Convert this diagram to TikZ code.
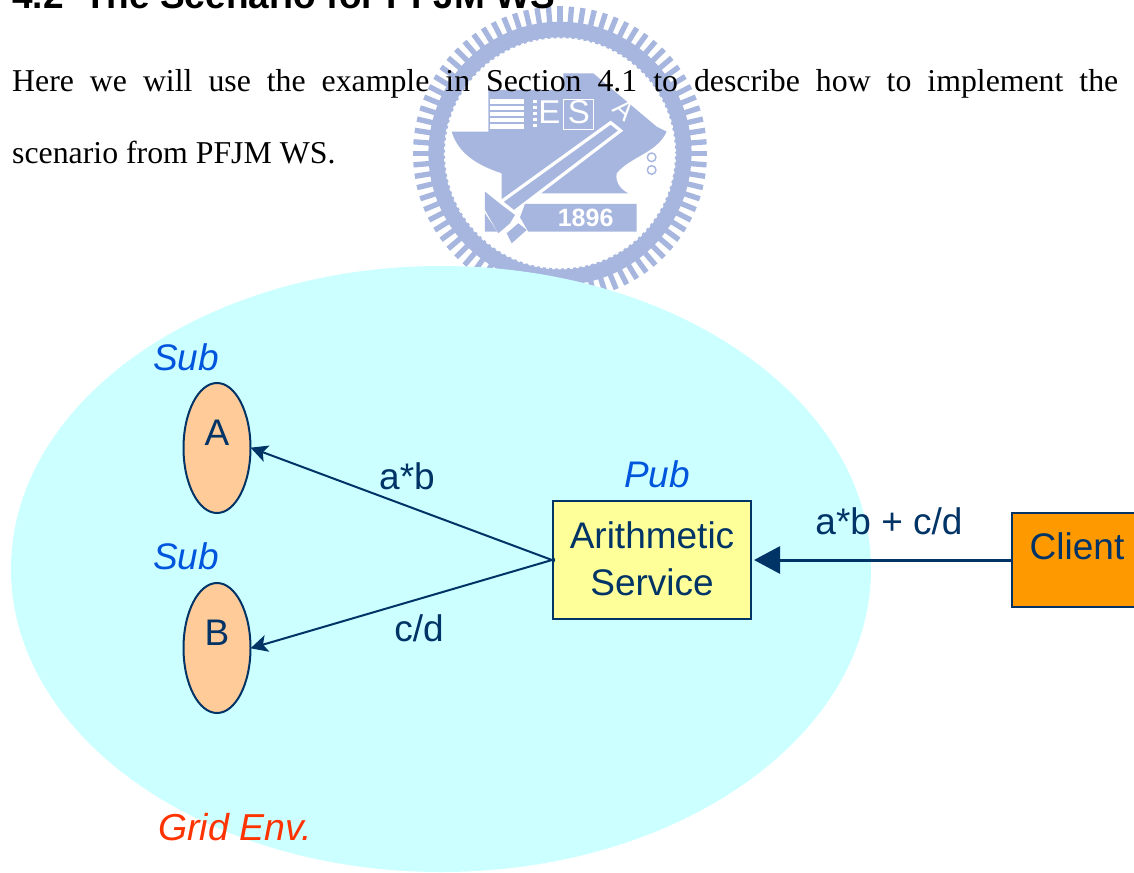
\documentclass[tikz,border=0pt]{standalone}
\usepackage{fontspec}
\setmainfont{Liberation Sans}
\newfontfamily\serifbody{Liberation Serif}
\usetikzlibrary{arrows.meta,shapes.geometric}
\definecolor{navy}{HTML}{003366}
\definecolor{skyfill}{HTML}{CCFFFF}
\definecolor{boxyellow}{HTML}{FFFF99}
\definecolor{boxorange}{HTML}{FF9900}
\definecolor{peach}{HTML}{FFCC99}
\definecolor{subblue}{HTML}{0055DD}
\definecolor{gridred}{HTML}{FF3300}
\definecolor{seal}{HTML}{A6B6DE}
\tikzset{
  x=1pt,y=-1pt,
  lbl/.style={inner sep=0pt,text=navy,font=\fontsize{37}{48}\selectfont},
  rolelbl/.style={inner sep=0pt,text=subblue,font=\fontsize{37}{44}\selectfont\itshape},
  subnode/.style={draw=navy,line width=2pt,fill=peach,ellipse,minimum width=67pt,minimum height=130pt,inner sep=0pt,text=navy,font=\fontsize{37}{44}\selectfont},
  boxnode/.style={draw=navy,line width=2pt,inner sep=0pt,text=navy,align=center,font=\fontsize{37}{47}\selectfont},
  thin arrow/.style={draw=navy,line width=2pt,shorten <=-3pt,shorten >=-1pt,-{Stealth[length=17pt,width=17pt,inset=4pt]}},
  thick arrow/.style={draw=navy,line width=3pt,shorten >=2pt,-{Triangle[length=26pt,width=27pt]}},
  bodytext/.style={inner sep=0pt,anchor=base west,font=\serifbody\fontsize{31.8}{38}\selectfont},
  sealwhite/.style={inner sep=0pt,text=white}
}
\begin{document}
\begin{tikzpicture}
\useasboundingbox (0,0) rectangle (1134,872);
\clip (0,0) rectangle (1134,872);
\fill[white] (0,0) rectangle (1134,872);
% seal
\begin{scope}[shift={(380,0)},x=0.3333pt,y=-0.3333pt]
  \def\cx{540} \def\cy{460}
  \foreach \a in {0,4.5,...,355.5}{
    \fill[seal,rotate around={\a:(\cx,\cy)}] (\cx-8,\cy-441) rectangle (\cx+8,\cy-385);
  }
  \draw[seal,line width=16.5pt] (\cx,\cy) circle[radius=370];
  \draw[white,line width=1.5pt,dashed] (\cx,\cy) circle[radius=346];
  % main body
  \fill[seal] (325,270) -- (550,270) -- (550,220) -- (640,220) -- (830,380) -- (860,395)
     .. controls (830,460) and (750,470) .. (710,520)
     .. controls (705,550) and (725,570) .. (745,580)
     -- (475,580) -- (405,632) -- (365,600) -- (365,520)
     .. controls (290,495) and (235,460) .. (215,395) -- (325,395) -- cycle;
  \fill[white] (330,298) rectangle (432,388);
  \foreach \yy in {312,330,348,366}{ \fill[seal] (330,\yy) rectangle (432,\yy+6); }
  \foreach \yy in {300,318,336,354,372}{ \fill[white] (458,\yy) rectangle (470,\yy+8); }
  \draw[white,line width=1.6pt] (550,298) rectangle (640,388);
  % hammer head
  \fill[seal] (315,575) -- (365,615) -- (405,645) -- (390,670) -- (355,700) -- (315,630) -- cycle;
  \fill[seal] (315,640) -- (352,695) -- (315,695) -- cycle;
  \fill[seal] (380,700) -- (415,670) -- (440,690) -- (395,730) -- cycle;
  % handle
  \draw[white,line width=3.2pt,line join=miter] (365,604) -- (692,368) -- (722,392) -- (402,636);
  % plate
  \fill[seal] (435,612) -- (770,612) -- (770,695) -- (445,695) -- (420,652) -- cycle;
  \node[sealwhite,font=\bfseries\fontsize{25}{25}\selectfont] (sealyear) at (617,653) {1896};
  \node[sealwhite,font=\fontsize{33}{33}\selectfont] (sealE) at (508,335) {E};
  \node[sealwhite,font=\fontsize{33}{33}\selectfont] (sealS) at (597,335) {S};
  \node[sealwhite,rotate=-42,font=\fontsize{27}{27}\selectfont] (sealA) at (733,328) {A};
  \draw[seal,line width=1.4pt] (815,472) circle[radius=13];
  \draw[seal,line width=1.4pt] (815,510) circle[radius=13];
\end{scope}
% text
\node[anchor=base west,inner sep=0pt,font=\bfseries\fontsize{37}{44}\selectfont] (heading) at (12,9) {4.2\ \ The Scenario for PFJM WS};
\node[bodytext] (line one) at (12,92) {\makebox[1106pt][s]{Here we will use the example in Section 4.1 to describe how to implement the}};
\node[bodytext] (line two) at (12,163) {scenario from PFJM WS.};
% diagram
\fill[skyfill] (441,569) ellipse[x radius=430,y radius=303];
\node[subnode] (A) at (217,448) {\raisebox{31pt}{A}};
\node[subnode] (B) at (217,648) {\raisebox{31pt}{B}};
\node[boxnode,fill=boxyellow,minimum width=198pt,minimum height=118pt] (arith) at (652,560) {\raisebox{2pt}{Arithmetic}\\\raisebox{2pt}{Service}};
\node[boxnode,fill=boxorange,minimum width=130pt,minimum height=94pt] (client) at (1077,560) {\raisebox{28pt}{Client}};
\draw[thin arrow] (arith.west) -- (A.east);
\draw[thin arrow] (arith.west) -- (B.east);
\draw[thick arrow] (client.west) -- (arith.east);
\node[rolelbl] (subA) at (186,357) {Sub};
\node[rolelbl] (subB) at (186,556) {Sub};
\node[rolelbl] (pub) at (657,474) {Pub};
\node[lbl] (ab) at (407,476) {a*b};
\node[lbl] (cd) at (419,628) {c/d};
\node[lbl] (sum) at (889,521) {a*b + c/d};
\node[inner sep=0pt,text=gridred,font=\fontsize{37.5}{44}\selectfont\itshape] (grid) at (235,827) {Grid Env.};
\end{tikzpicture}
\end{document}
